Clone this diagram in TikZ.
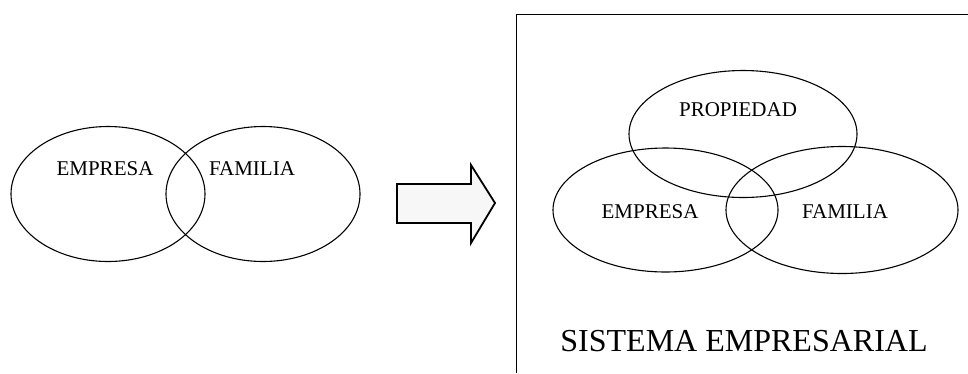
\documentclass[tikz,border=0pt]{standalone}
\usepackage{fontspec}
\setmainfont{Liberation Serif}
\usetikzlibrary{shapes.geometric}
\begin{document}
\begin{tikzpicture}[x=1pt,y=-1pt,
  set/.style={draw, line width=1.1pt, ellipse, inner sep=0pt},
  lbl/.style={font=\fontsize{21}{23}\selectfont, inner sep=0pt},
  frame/.style={line width=0.9pt}]
\useasboundingbox (0,0) rectangle (968,373);
% two-set diagram
\node[set, minimum width=194pt, minimum height=135pt] (e1) at (108,194) {};
\node[set, minimum width=194pt, minimum height=135pt] (f1) at (263,194) {};
\node[lbl] (te1) at (105,169) {EMPRESA};
\node[lbl] (tf1) at (252,169) {FAMILIA};
% block arrow
\draw[line width=1.8pt, fill=gray!6, line join=miter]
  (397,184) -- (471,184) -- (471,165) -- (495,203) -- (471,243) -- (471,223) -- (397,223) -- cycle;
% open frame
\coordinate (ftl) at (516,14);
\coordinate (ftr) at (968,14);
\coordinate (fbl) at (516,373);
\draw[frame] (ftr) -- (ftl) -- (fbl);
% three-set diagram
\node[set, minimum width=228pt, minimum height=127pt] (p2) at (743,134) {};
\node[set, minimum width=225pt, minimum height=124pt] (e2) at (665.5,210) {};
\node[set, minimum width=232pt, minimum height=127pt] (f2) at (842,210) {};
\node[lbl] (tp2) at (738,110) {PROPIEDAD};
\node[lbl] (te2) at (650,212) {EMPRESA};
\node[lbl] (tf2) at (845,212) {FAMILIA};
\node[font=\fontsize{32}{36}\selectfont, inner sep=0pt] (ts) at (744,341) {SISTEMA EMPRESARIAL};
\end{tikzpicture}
\end{document}
